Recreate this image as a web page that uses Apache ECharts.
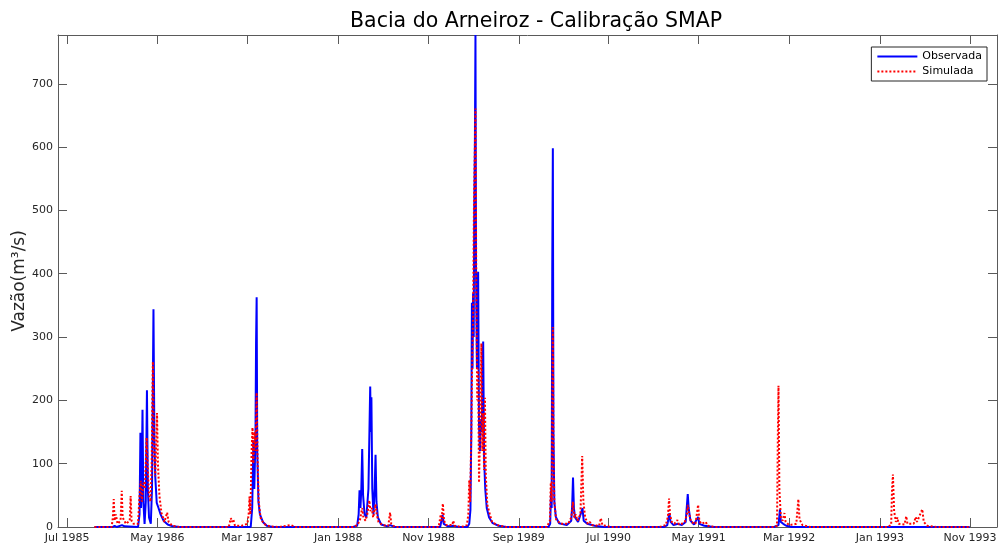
<!DOCTYPE html>
<html>
<head>
<meta charset="utf-8">
<script src="https://cdn.jsdelivr.net/npm/echarts@6/dist/echarts.min.js"></script>
<style>
  html, body { margin: 0; padding: 0; background: #fff; }
  #chart { width: 998px; height: 546px; }
</style>
</head>
<body>
<div id="chart"></div>
<script>
// Date ticks of the time axis and their labels
const tickDates = ['1985-07-01', '1986-05-01', '1987-03-01', '1988-01-01', '1988-11-01', '1989-09-01',
                   '1990-07-01', '1991-05-01', '1992-03-01', '1993-01-01', '1993-11-01'];
const tickLabels = ['Jul 1985', 'May 1986', 'Mar 1987', 'Jan 1988', 'Nov 1988', 'Sep 1989',
                    'Jul 1990', 'May 1991', 'Mar 1992', 'Jan 1993', 'Nov 1993'];
const yTicks = [0, 100, 200, 300, 400, 500, 600, 700];

// Observed discharge (m³/s)
const obsDates = [
  '1985-10-01', '1985-12-01', '1985-12-08', '1985-12-15', '1986-01-02', '1986-01-10', '1986-02-25',
  '1986-03-02', '1986-03-05', '1986-03-07', '1986-03-09', '1986-03-12', '1986-03-15', '1986-03-19',
  '1986-03-23', '1986-03-27', '1986-03-30', '1986-04-03', '1986-04-09', '1986-04-13', '1986-04-18',
  '1986-04-21', '1986-04-24', '1986-04-29', '1986-05-05', '1986-05-12', '1986-05-22', '1986-06-05',
  '1986-06-22', '1986-07-15',
  '1987-03-12', '1987-03-17', '1987-03-21', '1987-03-24', '1987-03-28', '1987-03-30', '1987-04-01',
  '1987-04-03', '1987-04-07', '1987-04-12', '1987-04-22', '1987-05-05', '1987-05-25',
  '1988-02-20', '1988-03-05', '1988-03-10', '1988-03-13', '1988-03-16', '1988-03-19', '1988-03-22',
  '1988-03-25', '1988-03-30', '1988-04-05', '1988-04-12', '1988-04-18', '1988-04-20', '1988-04-22',
  '1988-04-25', '1988-04-29', '1988-05-03', '1988-05-06', '1988-05-09', '1988-05-14', '1988-05-25',
  '1988-06-15', '1988-06-24', '1988-07-10',
  '1988-12-10', '1988-12-18', '1988-12-22', '1989-01-05', '1989-01-23', '1989-02-10',
  '1989-03-12', '1989-03-18', '1989-03-22', '1989-03-25', '1989-03-27', '1989-03-29', '1989-03-31',
  '1989-04-02', '1989-04-04', '1989-04-06', '1989-04-08', '1989-04-10', '1989-04-13', '1989-04-17',
  '1989-04-20', '1989-04-23', '1989-04-26', '1989-04-29', '1989-05-02', '1989-05-04', '1989-05-07',
  '1989-05-11', '1989-05-16', '1989-05-24', '1989-06-05', '1989-06-25', '1989-07-20',
  '1989-12-10', '1989-12-16', '1989-12-19', '1989-12-21', '1989-12-23', '1989-12-25', '1989-12-27',
  '1989-12-30', '1990-01-04', '1990-01-15', '1990-02-10', '1990-02-25', '1990-02-28', '1990-03-03',
  '1990-03-06', '1990-03-10', '1990-03-20', '1990-04-01', '1990-04-04', '1990-04-08', '1990-04-20',
  '1990-05-15', '1990-06-15',
  '1991-01-05', '1991-01-15', '1991-01-22', '1991-01-26', '1991-02-05', '1991-02-20', '1991-03-05',
  '1991-03-18', '1991-03-25', '1991-03-28', '1991-04-03', '1991-04-15', '1991-04-29', '1991-05-03',
  '1991-05-20', '1991-06-20',
  '1992-01-10', '1992-01-25', '1992-01-30', '1992-02-02', '1992-02-10', '1992-02-20', '1992-03-10',
  '1993-02-08', '1993-02-14', '1993-02-20', '1993-10-31'
];
const obsValues = [
  0, 0, 2, 0, 3, 1, 0,
  20, 149, 30, 60, 185, 40, 5,
  40, 216, 60, 15, 5, 60, 344,
  140, 80, 38, 30, 20, 10, 4,
  1, 0,
  0, 30, 137, 60, 140, 290, 363,
  120, 40, 20, 8, 2, 0,
  0, 2, 20, 58, 30, 60, 123,
  50, 20, 15, 60, 222, 150, 205,
  60, 20, 60, 114, 40, 15, 4,
  1, 3, 0,
  0, 19, 5, 1, 2, 0,
  0, 5, 27, 150, 354, 250, 369,
  300, 510, 600, 777, 400, 250, 403,
  160, 120, 170, 150, 250, 293, 110,
  60, 30, 15, 6, 2, 0,
  0, 5, 58, 30, 411, 598, 150,
  40, 16, 6, 3, 10, 32, 78,
  30, 15, 8, 25, 30, 10, 5,
  2, 0,
  0, 3, 22, 8, 3, 5, 3,
  8, 52, 30, 10, 4, 16, 5,
  2, 0,
  0, 3, 28, 8, 5, 2, 0,
  0, 2, 0, 0
];

// Simulated discharge (m³/s), SMAP model
const simDates = [
  '1985-10-01', '1985-11-28', '1985-12-02', '1985-12-05', '1985-12-08', '1985-12-12', '1985-12-18',
  '1985-12-28', '1986-01-01', '1986-01-04', '1986-01-10', '1986-01-15', '1986-01-28', '1986-01-31',
  '1986-02-03', '1986-02-10', '1986-02-25', '1986-03-02', '1986-03-06', '1986-03-10', '1986-03-15',
  '1986-03-20', '1986-03-26', '1986-03-30', '1986-04-03', '1986-04-08', '1986-04-12', '1986-04-16',
  '1986-04-20', '1986-04-24', '1986-04-30', '1986-05-03', '1986-05-08', '1986-05-15', '1986-05-25',
  '1986-06-03', '1986-06-08', '1986-06-20', '1986-07-15',
  '1986-12-28', '1987-01-04', '1987-01-08', '1987-01-12', '1987-01-18', '1987-02-10', '1987-03-01',
  '1987-03-05', '1987-03-08', '1987-03-11', '1987-03-15', '1987-03-18', '1987-03-21', '1987-03-25',
  '1987-03-28', '1987-04-01', '1987-04-04', '1987-04-08', '1987-04-14', '1987-04-25', '1987-05-15',
  '1987-06-15', '1987-07-25', '1987-08-10',
  '1988-02-20', '1988-03-05', '1988-03-14', '1988-03-22', '1988-03-26', '1988-04-02', '1988-04-08',
  '1988-04-15', '1988-04-19', '1988-04-23', '1988-04-28', '1988-05-06', '1988-05-10', '1988-05-16',
  '1988-05-30', '1988-06-18', '1988-06-24', '1988-06-28', '1988-07-10',
  '1988-12-05', '1988-12-12', '1988-12-15', '1988-12-19', '1988-12-23', '1988-12-30', '1989-01-20',
  '1989-01-23', '1989-01-27', '1989-02-20',
  '1989-03-10', '1989-03-15', '1989-03-18', '1989-03-21', '1989-03-25', '1989-03-28', '1989-03-31',
  '1989-04-03', '1989-04-08', '1989-04-11', '1989-04-14', '1989-04-17', '1989-04-20', '1989-04-24',
  '1989-04-28', '1989-05-01', '1989-05-04', '1989-05-07', '1989-05-10', '1989-05-13', '1989-05-18',
  '1989-05-27', '1989-06-03', '1989-06-20', '1989-07-20',
  '1989-12-05', '1989-12-15', '1989-12-18', '1989-12-21', '1989-12-23', '1989-12-25', '1989-12-27',
  '1989-12-30', '1990-01-05', '1990-01-20', '1990-02-15', '1990-02-25', '1990-03-03', '1990-03-07',
  '1990-03-12', '1990-03-18', '1990-03-28', '1990-04-03', '1990-04-07', '1990-04-13', '1990-04-22',
  '1990-04-29', '1990-05-05', '1990-05-30', '1990-06-05', '1990-06-10', '1990-07-10',
  '1990-12-20', '1991-01-10', '1991-01-17', '1991-01-21', '1991-01-24', '1991-01-30', '1991-02-08',
  '1991-02-18', '1991-02-23', '1991-03-05', '1991-03-15', '1991-03-22', '1991-03-25', '1991-03-28',
  '1991-04-05', '1991-04-20', '1991-04-29', '1991-05-03', '1991-05-10', '1991-05-25', '1991-05-30',
  '1991-06-25',
  '1992-01-10', '1992-01-20', '1992-01-23', '1992-01-25', '1992-01-28', '1992-02-02', '1992-02-08',
  '1992-02-14', '1992-02-18', '1992-03-01', '1992-03-25', '1992-04-01', '1992-04-05', '1992-04-15',
  '1992-05-10',
  '1993-01-25', '1993-02-08', '1993-02-11', '1993-02-14', '1993-02-18', '1993-02-24', '1993-03-01',
  '1993-03-05', '1993-03-25', '1993-03-31', '1993-04-04', '1993-04-25', '1993-05-02', '1993-05-06',
  '1993-05-24', '1993-05-29', '1993-06-10', '1993-07-10', '1993-10-31'
];
const simValues = [
  0, 0, 15, 44, 10, 20, 5,
  10, 57, 15, 10, 5, 10, 49,
  10, 5, 5, 50, 73, 40, 70,
  60, 141, 90, 50, 40, 100, 261,
  110, 80, 180, 100, 50, 22, 8,
  23, 8, 2, 0,
  0, 14, 8, 12, 2, 2, 5,
  20, 48, 20, 120, 157, 100, 150,
  120, 212, 110, 40, 15, 5, 1,
  0, 3, 0,
  0, 3, 10, 30, 15, 10, 20,
  42, 25, 30, 15, 36, 20, 8,
  3, 2, 23, 5, 0,
  0, 20, 10, 37, 10, 3, 3,
  10, 2, 0,
  3, 20, 74, 40, 150, 260, 330,
  512, 661, 370, 200, 250, 70, 160,
  290, 120, 180, 90, 204, 80, 35,
  19, 8, 3, 0,
  0, 10, 70, 40, 200, 316, 120,
  40, 12, 5, 5, 15, 40, 15,
  20, 10, 20, 112, 40, 15, 5,
  8, 3, 2, 14, 3, 0,
  0, 3, 16, 45, 20, 8, 5,
  11, 4, 5, 8, 20, 35, 25,
  8, 5, 35, 10, 5, 8, 2,
  0,
  0, 2, 150, 223, 60, 15, 10,
  22, 8, 3, 5, 44, 12, 3,
  0,
  0, 3, 60, 83, 25, 8, 15,
  5, 4, 17, 5, 5, 16, 8,
  28, 8, 2, 0, 0
];

// Dates become millisecond timestamps on a numeric axis
const toTime = d => +echarts.time.parse(d);
const pairs = (dates, values) => dates.map((d, i) => [toTime(d), values[i]]);

const tickTimes = tickDates.map(toTime);
function tickText(value) {
  let best = 0;
  for (let i = 1; i < tickTimes.length; i++) {
    if (Math.abs(tickTimes[i] - value) < Math.abs(tickTimes[best] - value)) best = i;
  }
  return tickLabels[best];
}

const FONT = 'DejaVu Sans';
const AXIS_COLOR = '#5a5a5a';
const TEXT_COLOR = '#262626';

const chart = echarts.init(document.getElementById('chart'), null, { renderer: 'canvas' });

const xCommon = {
  type: 'value',
  min: toTime('1985-05-31'),
  max: toTime('1994-01-31'),
  axisLine: { show: true, onZero: false, lineStyle: { color: AXIS_COLOR, width: 1 } },
  axisTick: { show: true, inside: true, length: 9, customValues: tickTimes, lineStyle: { color: AXIS_COLOR } },
  splitLine: { show: false }
};
const yCommon = {
  type: 'value',
  min: 0,
  max: 777,
  axisLine: { show: true, onZero: false, lineStyle: { color: AXIS_COLOR, width: 1 } },
  axisTick: { show: true, inside: true, length: 9, customValues: yTicks, lineStyle: { color: AXIS_COLOR } },
  splitLine: { show: false }
};

chart.setOption({
  animation: false,
  backgroundColor: '#ffffff',
  title: {
    text: 'Bacia do Arneiroz - Calibração SMAP',
    left: 345,
    top: 6,
    textStyle: { fontFamily: FONT, fontSize: 20.5, fontWeight: 'normal', color: '#000000' }
  },
  legend: {
    orient: 'vertical',
    right: 11,
    top: 47,
    padding: [4, 5, 4, 5],
    itemGap: 4,
    itemWidth: 40,
    itemHeight: 13,
    backgroundColor: '#ffffff',
    borderColor: TEXT_COLOR,
    borderWidth: 1,
    borderRadius: 0,
    itemStyle: { opacity: 0 },
    textStyle: { fontFamily: FONT, fontSize: 11, color: '#000000' },
    data: ['Observada', 'Simulada']
  },
  grid: { left: 58, right: 1, top: 35, bottom: 19, containLabel: false, outerBoundsMode: 'none' },
  xAxis: [
    Object.assign({}, xCommon, {
      position: 'bottom',
      axisLabel: {
        show: true, customValues: tickTimes, margin: 6,
        fontFamily: FONT, fontSize: 11, color: TEXT_COLOR,
        formatter: value => tickText(value)
      }
    }),
    Object.assign({}, xCommon, {
      position: 'top',
      axisLabel: { show: false }
    })
  ],
  yAxis: [
    Object.assign({}, yCommon, {
      position: 'left',
      name: 'Vazão(m³/s)',
      nameLocation: 'middle',
      nameMoveOverlap: false,
      nameGap: 30,
      nameTextStyle: { fontFamily: FONT, fontSize: 17, color: TEXT_COLOR },
      axisLabel: { show: true, customValues: yTicks, margin: 5, fontFamily: FONT, fontSize: 11, color: TEXT_COLOR }
    }),
    Object.assign({}, yCommon, {
      position: 'right',
      axisLabel: { show: false }
    })
  ],
  series: [
    {
      name: 'Observada',
      type: 'line',
      xAxisIndex: 0,
      yAxisIndex: 0,
      showSymbol: false,
      symbol: 'none',
      color: '#0000ff',
      lineStyle: { color: '#0000ff', width: 2 },
      data: pairs(obsDates, obsValues)
    },
    {
      name: 'Simulada',
      type: 'line',
      xAxisIndex: 0,
      yAxisIndex: 0,
      showSymbol: false,
      symbol: 'none',
      color: '#ff0000',
      lineStyle: { color: '#ff0000', width: 2, type: 'dotted' },
      data: pairs(simDates, simValues)
    }
  ]
});
</script>
</body>
</html>
